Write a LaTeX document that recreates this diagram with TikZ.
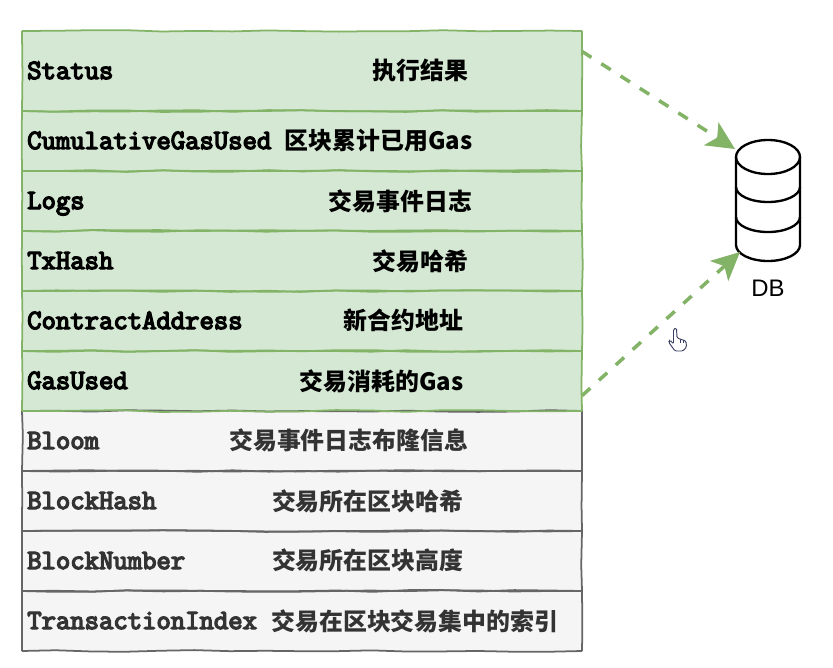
\documentclass[tikz,border=0pt]{standalone}
\usepackage{fontspec}
\setmainfont{Liberation Sans}
\newfontfamily\cjk{Noto Sans CJK SC}
\newfontfamily\keyfont{Latin Modern Mono}[FakeBold=5]
\usepackage{xcolor}
\usepackage{tikz}
\usetikzlibrary{arrows.meta,decorations.pathmorphing}
\definecolor{greenFill}{HTML}{D5E8D4}
\definecolor{greenLine}{HTML}{82B366}
\definecolor{greyFill}{HTML}{F5F5F5}
\definecolor{greyLine}{HTML}{666666}
\definecolor{greyText}{HTML}{333333}
\definecolor{handLine}{HTML}{3A3F63}
\begin{document}
\begin{tikzpicture}[x=0.03cm,y=-0.03cm,
  wob/.style={decorate,decoration={random steps,segment length=30pt,amplitude=0.8pt},line width=1.5pt},
  ro/.style={minimum width=16.8cm,inner sep=0pt,outer sep=0pt},
  ra/.style={ro,fill=greenFill},
  rb/.style={ro,fill=greyFill},
  ke/.style={anchor=base west,inner sep=0pt,font=\fontsize{23.8}{24}\selectfont\keyfont},
  va/.style={anchor=east,inner sep=0pt,font=\fontsize{20.4}{24}\selectfont\cjk\bfseries},
  link/.style={draw=greenLine,line width=3pt,dash pattern=on 9.5pt off 10pt,-{Stealth[length=24pt,width=23pt,inset=6pt,fill=greenLine]}},
  dbline/.style={line width=2pt,draw=black}]
  \useasboundingbox (0,0) rectangle (833,668);
  % grey rows
  \node[rb,minimum height=1.8cm] (rowBloom) at (302,441) {};
  \node[rb,minimum height=1.8cm] (rowBlockHash) at (302,501) {};
  \node[rb,minimum height=1.8cm] (rowBlockNumber) at (302,561) {};
  \node[rb,minimum height=1.8cm] (rowTxIndex) at (302,621) {};
  % green rows
  \node[ra,minimum height=2.4cm] (rowStatus) at (302,71) {};
  \node[ra,minimum height=1.8cm] (rowCumGas) at (302,141) {};
  \node[ra,minimum height=1.8cm] (rowLogs) at (302,201) {};
  \node[ra,minimum height=1.8cm] (rowTxHash) at (302,261) {};
  \node[ra,minimum height=1.8cm] (rowContract) at (302,321) {};
  \node[ra,minimum height=1.8cm] (rowGasUsed) at (302,381) {};
  % hand-drawn outlines
  \foreach \r in {rowBloom,rowBlockHash,rowBlockNumber,rowTxIndex}{
    \draw[wob,greyLine] (\r.north west) -- (\r.north east);
    \draw[wob,greyLine] (\r.north east) -- (\r.south east);
    \draw[wob,greyLine] (\r.south east) -- (\r.south west);
    \draw[wob,greyLine] (\r.south west) -- (\r.north west);
  }
  \foreach \r in {rowStatus,rowCumGas,rowLogs,rowTxHash,rowContract,rowGasUsed}{
    \draw[wob,greenLine] (\r.north west) -- (\r.north east);
    \draw[wob,greenLine] (\r.north east) -- (\r.south east);
    \draw[wob,greenLine] (\r.south east) -- (\r.south west);
    \draw[wob,greenLine] (\r.south west) -- (\r.north west);
  }
  % field names
  \node[ke] (keyStatus) at (27,79) {Status};
  \node[ke] (keyCumGas) at (27,149) {CumulativeGasUsed};
  \node[ke] (keyLogs) at (27,209) {Logs};
  \node[ke] (keyTxHash) at (27,269) {TxHash};
  \node[ke] (keyContract) at (27,329) {ContractAddress};
  \node[ke] (keyGasUsed) at (27,389) {GasUsed};
  \node[ke,greyText] (keyBloom) at (27,449) {Bloom};
  \node[ke,greyText] (keyBlockHash) at (27,509) {BlockHash};
  \node[ke,greyText] (keyBlockNumber) at (27,569) {BlockNumber};
  \node[ke,greyText] (keyTxIndex) at (27,629) {TransactionIndex};
  % meanings
  \node[va] (valStatus) at (468.5,70) {执行结果};
  \node[va] (valCumGas) at (472.5,141) {区块累计已用Gas};
  \node[va] (valLogs) at (472.5,201) {交易事件日志};
  \node[va] (valTxHash) at (468.5,261) {交易哈希};
  \node[va] (valContract) at (463.5,320) {新合约地址};
  \node[va] (valGasUsed) at (463.5,381) {交易消耗的Gas};
  \node[va,greyText] (valBloom) at (468.5,440) {交易事件日志布隆信息};
  \node[va,greyText] (valBlockHash) at (463.5,501) {交易所在区块哈希};
  \node[va,greyText] (valBlockNumber) at (463.5,560) {交易所在区块高度};
  \node[va,greyText] (valTxIndex) at (558.5,621) {交易在区块交易集中的索引};
  % database
  \draw[dbline,fill=white] (736,157) arc[start angle=180,end angle=0,x radius=32,y radius=-17]
     -- (800,245) arc[start angle=0,end angle=-180,x radius=32,y radius=-16] -- cycle;
  \draw[dbline] (736,157) arc[start angle=180,end angle=360,x radius=32,y radius=-17];
  \draw[dbline] (736,187) arc[start angle=180,end angle=360,x radius=32,y radius=-15];
  \draw[dbline] (736,217) arc[start angle=180,end angle=360,x radius=32,y radius=-15];
  \coordinate (dbTop) at (735,149);
  \coordinate (dbBottom) at (740,252);
  \node[font=\fontsize{20.4}{24}\selectfont,inner sep=0pt] (dbLabel) at (768,288) {DB};
  % links
  \draw[link] (rowStatus.4.3) -- (dbTop);
  \draw[link] (rowGasUsed.-3) -- (dbBottom);
  % pointer
  \draw[handLine,line width=0.8pt,fill=white,rounded corners=1.2pt]
    (673.5,344) -- (673.5,329) -- (676.5,328) -- (677,338) -- (686,341) -- (686.5,347)
    -- (683,351) -- (675,351) -- (668.5,342) -- (670,340) -- cycle;
  \draw[handLine,line width=0.7pt] (680,338.5) -- (680,343) (683,339.5) -- (683,343);
\end{tikzpicture}
\end{document}
